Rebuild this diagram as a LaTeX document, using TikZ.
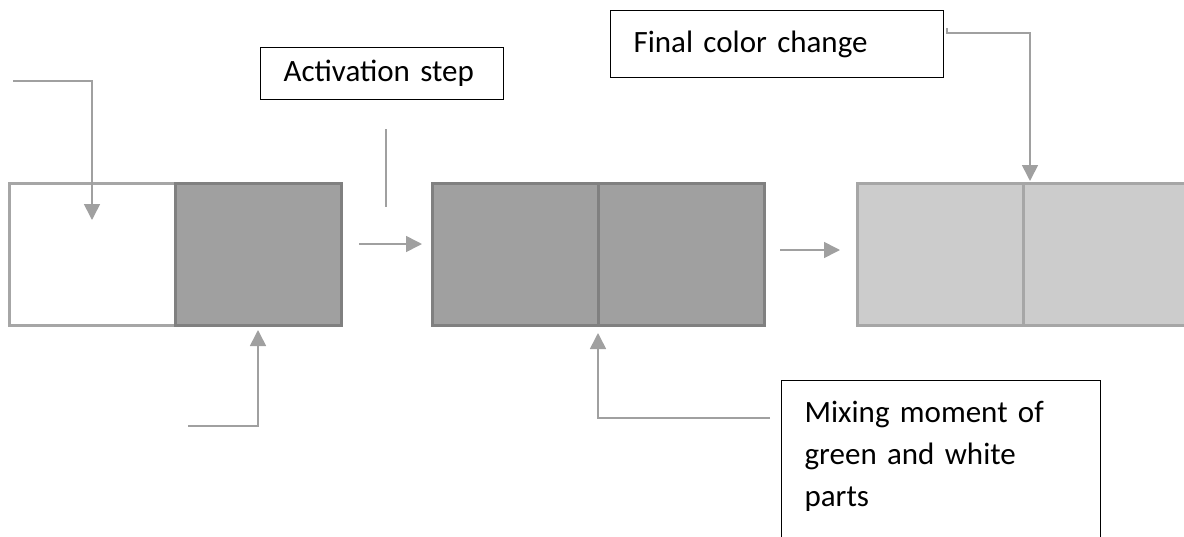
\documentclass[tikz,border=0pt]{standalone}
\usepackage{fontspec}
\setmainfont{Carlito}
\usetikzlibrary{arrows.meta, positioning}
\definecolor{linkgray}{RGB}{160,160,160}
\definecolor{darkfill}{RGB}{160,160,160}
\definecolor{darkedge}{RGB}{128,128,128}
\definecolor{lightfill}{RGB}{204,204,204}
\definecolor{lightedge}{RGB}{166,166,166}

\begin{document}
\begin{tikzpicture}[x=1pt, y=-1pt,
    every node/.style={font=\fontsize{31}{42}\selectfont},
    half/.style={line width=3pt, minimum width=166pt, minimum height=142pt, inner sep=0pt, outer sep=0pt},
    whitehalf/.style={half, draw=lightedge, fill=white},
    darkhalf/.style={half, draw=darkedge, fill=darkfill},
    lighthalf/.style={half, draw=lightedge, fill=lightfill},
    note/.style={draw=black, line width=1.2pt, align=left, inner xsep=23pt, anchor=north west},
    link/.style={draw=linkgray, line width=1.6pt, -{Triangle[length=16pt,width=16pt]}}
]
\useasboundingbox (0,0) rectangle (1184,536);

% the three stages
\node[whitehalf] (whiteA) at (92,254) {};
\node[darkhalf, right=0pt of whiteA] (greenA) {};
\node[darkhalf] (mixL) at (515,254) {};
\node[darkhalf, right=0pt of mixL] (mixR) {};
\node[lighthalf] (finL) at (940,254) {};
\node[lighthalf, right=0pt of finL] (finR) {};

% labels
\node[note, text width=197pt, minimum height=52pt] (actbox) at (260,47) {\mbox{Activation step}};
\node[note, text width=287pt, minimum height=67pt] (finbox) at (610,10) {Final color change};
\node[note, text width=273pt, inner ysep=21pt] (mixbox) at (781,380) {Mixing moment of\\green and white\\parts\\\mbox{}};

% connectors
\coordinate (srcA) at (13,81);
\coordinate (srcB) at (188,426);
\coordinate (actTop) at (386,129);
\coordinate (actBot) at (386,207);
\draw[link] (srcA) -| ([yshift=-37pt]whiteA.north);
\draw[link] (srcB) -| ([yshift=-5pt]greenA.south);
\draw[draw=linkgray, line width=1.2pt] (actTop) -- (actBot);
\draw[link] ([xshift=18pt,yshift=10pt]greenA.east) -- ([xshift=-10pt,yshift=10pt]mixL.west);
\draw[link] ([xshift=16pt,yshift=4pt]mixR.east) -- ([xshift=-17pt,yshift=4pt]finL.west);
\draw[link] ([xshift=3pt,yshift=16pt]finbox.east) -- ++(0,5) -| ([xshift=7pt,yshift=2pt]finR.north west);
\draw[link] ([xshift=-11pt,yshift=-38pt]mixbox.north west) -| ([yshift=-8pt]mixR.south west);

\end{tikzpicture}
\end{document}
